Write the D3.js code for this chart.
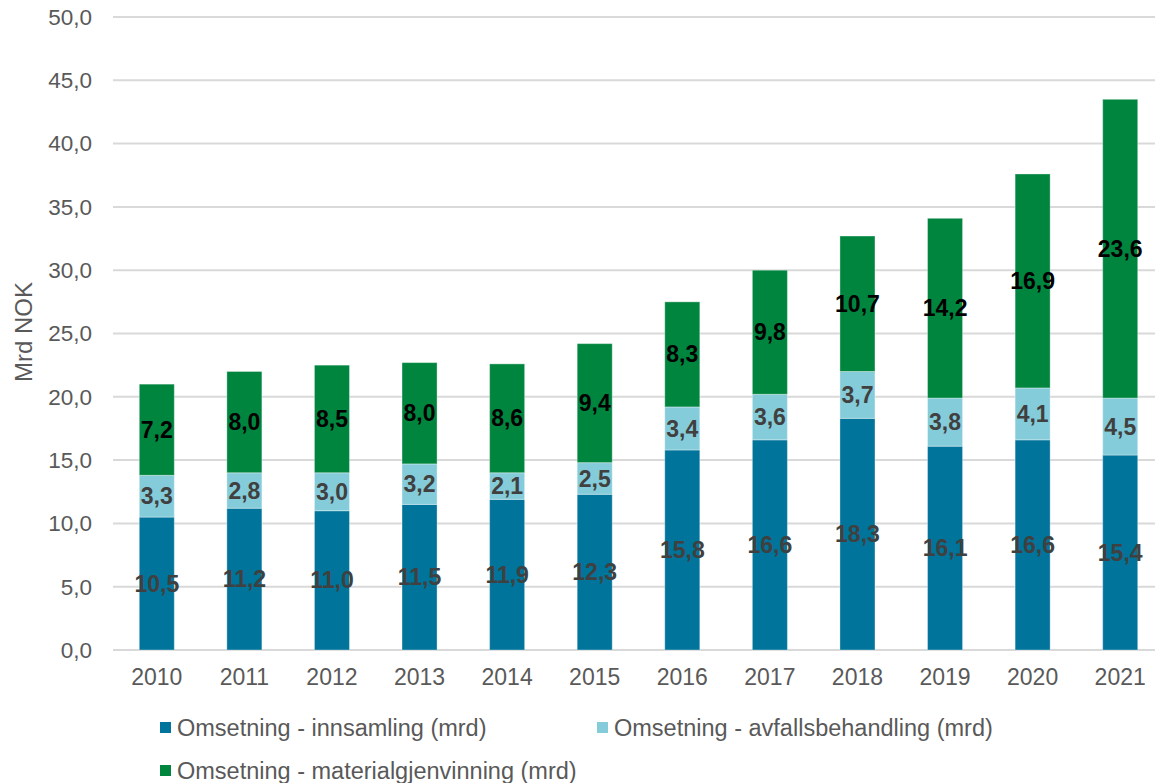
<!DOCTYPE html>
<html>
<head>
<meta charset="utf-8">
<script src="https://cdn.jsdelivr.net/npm/d3@7"></script>
<style>
  body { margin: 0; background: #fff; }
  text { font-family: "Liberation Sans", Arial, sans-serif; }
</style>
</head>
<body>
<svg id="app" width="1155" height="783"></svg>
<script>
const years = ['2010','2011','2012','2013','2014','2015','2016','2017','2018','2019','2020','2021']
const innsamling = [10.5, 11.2, 11.0, 11.5, 11.9, 12.3, 15.8, 16.6, 18.3, 16.1, 16.6, 15.4]
const avfall = [3.3, 2.8, 3.0, 3.2, 2.1, 2.5, 3.4, 3.6, 3.7, 3.8, 4.1, 4.5]
const material = [7.2, 8.0, 8.5, 8.0, 8.6, 9.4, 8.3, 9.8, 10.7, 14.2, 16.9, 23.6]
const seriesNames = ['Omsetning - innsamling (mrd)', 'Omsetning - avfallsbehandling (mrd)', 'Omsetning - materialgjenvinning (mrd)']
const yTicks = [0, 5, 10, 15, 20, 25, 30, 35, 40, 45, 50]

const colors = ['#00749a', '#85ccda', '#00853f']
const labelColors = ['#404040', '#404040', '#000000']

let svg = d3.select('#app')

const plotLeft = 113, plotRight = 1164, plotTop = 17, plotBottom = 650

let x = d3.scaleBand().domain(years).range([plotLeft, plotRight]).paddingInner(0.6).paddingOuter(0.3)
let y = d3.scaleLinear().domain([0, 50]).range([plotBottom, plotTop])

const fmt = v => d3.format('.1f')(v).replace('.', ',')

// gridlines
svg.append('g')
.selectAll('line')
.data(yTicks)
.enter()
.append('line')
.attr('x1', plotLeft)
.attr('x2', plotRight)
.attr('y1', d=>y(d))
.attr('y2', d=>y(d))
.attr('stroke', '#d9d9d9')
.attr('stroke-width', 2)

// y tick labels
svg.append('g')
.selectAll('text')
.data(yTicks)
.enter()
.append('text')
.attr('x', 92)
.attr('y', d=>y(d))
.attr('dy', '0.35em')
.attr('text-anchor', 'end')
.attr('font-size', 22.5)
.attr('fill', '#595959')
.text(d=>fmt(d))

// x labels
svg.append('g')
.selectAll('text')
.data(years)
.enter()
.append('text')
.attr('x', d=>x(d)+x.bandwidth()/2)
.attr('y', 677)
.attr('dy', '0.35em')
.attr('text-anchor', 'middle')
.attr('font-size', 23)
.attr('fill', '#595959')
.text(d=>d)

// y title
svg.append('text')
.attr('transform', 'translate(32,332) rotate(-90)')
.attr('text-anchor', 'middle')
.attr('font-size', 24)
.attr('fill', '#595959')
.text('Mrd NOK')

const table = years.map((yr,i)=>({year: yr, s0: innsamling[i], s1: avfall[i], s2: material[i]}))
const stack = d3.stack().keys(['s0','s1','s2'])(table)

let barG = svg.append('g')
stack.forEach((layer, li) => {
  barG.selectAll('rect.s'+li)
  .data(layer)
  .enter()
  .append('rect')
  .attr('class', 's'+li)
  .attr('x', d=>x(d.data.year))
  .attr('width', x.bandwidth())
  .attr('y', d=>y(d[1]))
  .attr('height', d=>y(d[0])-y(d[1]))
  .attr('fill', colors[li])
  .attr('stroke', 'rgba(255,255,255,0.35)')
  .attr('stroke-width', 1)
})

let labelG = svg.append('g')
stack.forEach((layer, li) => {
  labelG.selectAll('text.s'+li)
  .data(layer)
  .enter()
  .append('text')
  .attr('class', 's'+li)
  .attr('x', d=>x(d.data.year)+x.bandwidth()/2)
  .attr('y', d=>y((d[0]+d[1])/2))
  .attr('dy', '0.35em')
  .attr('text-anchor', 'middle')
  .attr('font-size', 23)
  .attr('font-weight', 'bold')
  .attr('fill', labelColors[li])
  .text(d=>fmt(d[1]-d[0]))
})

// legend
const legendPos = [[160, 728], [597, 728], [160, 771]]
let legG = svg.append('g')
seriesNames.forEach((name, i) => {
  const g = legG.append('g').attr('transform', `translate(${legendPos[i][0]},${legendPos[i][1]})`)
  g.append('rect')
  .attr('x', 0)
  .attr('y', -6)
  .attr('width', 11)
  .attr('height', 11)
  .attr('fill', colors[i])
  g.append('text')
  .attr('x', 17)
  .attr('y', 0)
  .attr('dy', '0.35em')
  .attr('font-size', 23.5)
  .attr('fill', '#595959')
  .text(name)
})
</script>
</body>
</html>
